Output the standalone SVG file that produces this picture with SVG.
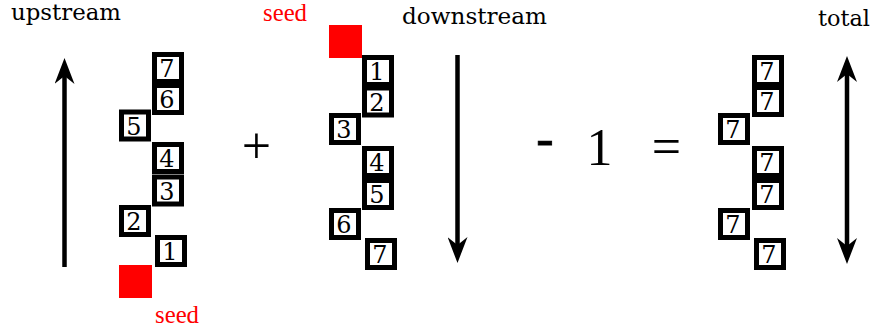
<svg xmlns="http://www.w3.org/2000/svg" width="875" height="333" viewBox="0 0 875 333">
<style>
text{font-family:"DejaVu Serif","Liberation Serif",serif;fill:#000}
.lbl{font-size:23px}
.seedt{font-family:"Liberation Serif","DejaVu Serif",serif;font-size:25px;fill:#ff0000}
.box rect{fill:#fff;stroke:#000;stroke-width:5}
.box text{font-size:24px;text-anchor:middle}
.seed{fill:#ff0000}
.arrow{stroke:#000;stroke-width:4.5;fill:none}
.op{text-anchor:middle;font-family:"Liberation Serif","DejaVu Serif",serif;font-size:52px}
</style>
<defs>
<marker id="ah" viewBox="0 0 26 20" refX="8" refY="10" markerWidth="26" markerHeight="20" markerUnits="userSpaceOnUse" orient="auto-start-reverse">
<path d="M0,0 L26,10 L0,20 L8,10 Z" fill="#000"/>
</marker>
</defs>

<text class="lbl" x="11" y="20" textLength="110" lengthAdjust="spacingAndGlyphs">upstream</text>
<text class="seedt" x="263" y="20.5" textLength="44" lengthAdjust="spacingAndGlyphs">seed</text>
<text class="lbl" x="402" y="24" textLength="145" lengthAdjust="spacingAndGlyphs">downstream</text>
<text class="lbl" x="818" y="26" textLength="52" lengthAdjust="spacingAndGlyphs">total</text>
<text class="seedt" x="155" y="323" textLength="44" lengthAdjust="spacingAndGlyphs">seed</text>

<g id="connectors">
<line class="arrow" x1="64.5" y1="267" x2="64.5" y2="76" marker-end="url(#ah)"/>
<line class="arrow" x1="457.5" y1="55" x2="457.5" y2="245" marker-end="url(#ah)"/>
<line class="arrow" x1="847" y1="74" x2="847" y2="246" marker-start="url(#ah)" marker-end="url(#ah)"/>
</g>

<g id="upstream-column">
<g id="u7" class="box"><rect x="154.5" y="54.5" width="27" height="27"/><text x="167" y="77">7</text></g>
<g id="u6" class="box"><rect x="154.5" y="85.5" width="27" height="27"/><text x="167" y="108">6</text></g>
<g id="u5" class="box"><rect x="121.5" y="112" width="27" height="27"/><text x="134" y="134.5">5</text></g>
<g id="u4" class="box"><rect x="154.5" y="144.5" width="27" height="27"/><text x="167" y="167">4</text></g>
<g id="u3" class="box"><rect x="154.5" y="177" width="27" height="27"/><text x="167" y="199.5">3</text></g>
<g id="u2" class="box"><rect x="121.5" y="207.5" width="27" height="27"/><text x="134" y="230">2</text></g>
<g id="u1" class="box"><rect x="157.5" y="237.5" width="27" height="27"/><text x="170" y="260">1</text></g>
<rect id="u-seed" class="seed" x="119" y="265" width="33" height="33"/>
</g>

<text id="plus" class="op" x="256.5" y="163">+</text>

<g id="downstream-column">
<rect id="d-seed" class="seed" x="329" y="25" width="33" height="33"/>
<g id="d1" class="box"><rect x="364.5" y="57.5" width="27" height="27"/><text x="377" y="80">1</text></g>
<g id="d2" class="box"><rect x="364.5" y="88" width="27" height="27"/><text x="377" y="110.5">2</text></g>
<g id="d3" class="box"><rect x="331.5" y="115.5" width="27" height="27"/><text x="344" y="138">3</text></g>
<g id="d4" class="box"><rect x="364.5" y="148.5" width="27" height="27"/><text x="377" y="171">4</text></g>
<g id="d5" class="box"><rect x="364.5" y="180.5" width="27" height="27"/><text x="377" y="203">5</text></g>
<g id="d6" class="box"><rect x="331.5" y="210.5" width="27" height="27"/><text x="344" y="233">6</text></g>
<g id="d7" class="box"><rect x="367.5" y="240.5" width="27" height="27"/><text x="380" y="263">7</text></g>
</g>

<text id="minus" class="op" x="545" y="156" stroke="#000" stroke-width="0.8">-</text>
<text id="one" class="op" x="599.5" y="165">1</text>
<text id="equals" class="op" x="666.5" y="163.5">=</text>

<g id="total-column">
<g id="t1" class="box"><rect x="754.5" y="57.5" width="27" height="27"/><text x="767" y="80">7</text></g>
<g id="t2" class="box"><rect x="754.5" y="87.5" width="27" height="27"/><text x="767" y="110">7</text></g>
<g id="t3" class="box"><rect x="720.5" y="115.5" width="27" height="27"/><text x="733" y="138">7</text></g>
<g id="t4" class="box"><rect x="754.5" y="148.5" width="27" height="27"/><text x="767" y="171">7</text></g>
<g id="t5" class="box"><rect x="754.5" y="180.5" width="27" height="27"/><text x="767" y="203">7</text></g>
<g id="t6" class="box"><rect x="720.5" y="210.5" width="27" height="27"/><text x="733" y="233">7</text></g>
<g id="t7" class="box"><rect x="756.5" y="240.5" width="27" height="27"/><text x="769" y="263">7</text></g>
</g>
</svg>
